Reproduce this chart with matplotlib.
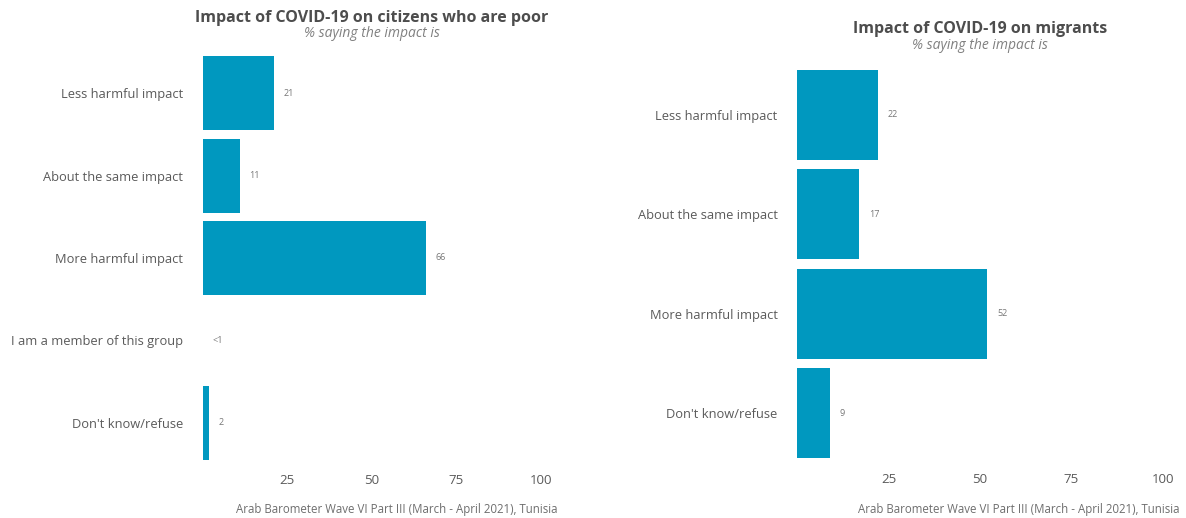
import matplotlib
matplotlib.use("Agg")
import matplotlib.pyplot as plt

plt.rcParams['font.family'] = ['Open Sans', 'DejaVu Sans']

# ---- data ----
left_categories = ["Less harmful impact", "About the same impact", "More harmful impact",
                   "I am a member of this group", "Don't know/refuse"]
left_values = [21, 11, 66, 0, 2]
left_labels = ["21", "11", "66", "<1", "2"]

right_categories = ["Less harmful impact", "About the same impact", "More harmful impact",
                    "Don't know/refuse"]
right_values = [22, 17, 52, 9]
right_labels = ["22", "17", "52", "9"]

x_ticks = [25, 50, 75, 100]

left_title = "Impact of COVID-19 on citizens who are poor"
right_title = "Impact of COVID-19 on migrants"
subtitle = "% saying the impact is"
caption = "Arab Barometer Wave VI Part III (March - April 2021), Tunisia"

BAR = "#0098BF"
TXT = "#5a5a5a"
W, H = 1186, 518

fig = plt.figure(figsize=(W / 100, H / 100), dpi=100)


def px_axes(x0, x1, ytop, ybot):
    return fig.add_axes([x0 / W, 1 - ybot / H, (x1 - x0) / W, (ybot - ytop) / H])


def draw(ax, cats, vals, labs, title, title_y_px):
    pos = list(range(len(cats)))
    ax.barh(pos, vals, height=0.9, color=BAR, linewidth=0)
    ax.set_ylim(len(cats) - 0.5, -0.5)
    ax.set_xlim(0, 100)
    ax.set_yticks(pos)
    ax.set_yticklabels(cats, fontsize=9.3, color=TXT)
    ax.set_xticks(x_ticks)
    ax.set_xticklabels([str(t) for t in x_ticks], fontsize=9.5, color=TXT)
    ax.tick_params(length=0)
    ax.tick_params(axis="y", pad=14)
    ax.tick_params(axis="x", pad=7)
    for s in ax.spines.values():
        s.set_visible(False)
    for p, v, l in zip(pos, vals, labs):
        ax.annotate(l, (v, p), xytext=(7, 0), textcoords="offset points",
                    va="center", ha="left", fontsize=6.5, color="#777777")
    bb = ax.get_position()
    cx = (bb.x0 + bb.x1) / 2
    fig.text(cx, 1 - title_y_px / H, title, ha="center", va="center",
             fontsize=11.5, fontweight="bold", color="#4d4d4d")
    fig.text(cx, 1 - (title_y_px + 16) / H, subtitle, ha="center", va="center",
             fontsize=10, style="italic", color="#808080")


axL = px_axes(202.5, 541, 52, 464)
draw(axL, left_categories, left_values, left_labels, left_title, 17.5)

axR = px_axes(797, 1163, 65, 463)
draw(axR, right_categories, right_values, right_labels, right_title, 29.5)

fig.text(558 / W, 1 - 510 / H, caption, ha="right", va="center", fontsize=8.3, color="#6e6e6e")
fig.text(1180 / W, 1 - 510 / H, caption, ha="right", va="center", fontsize=8.3, color="#6e6e6e")

fig.savefig("out.png", dpi=100, facecolor="white")
